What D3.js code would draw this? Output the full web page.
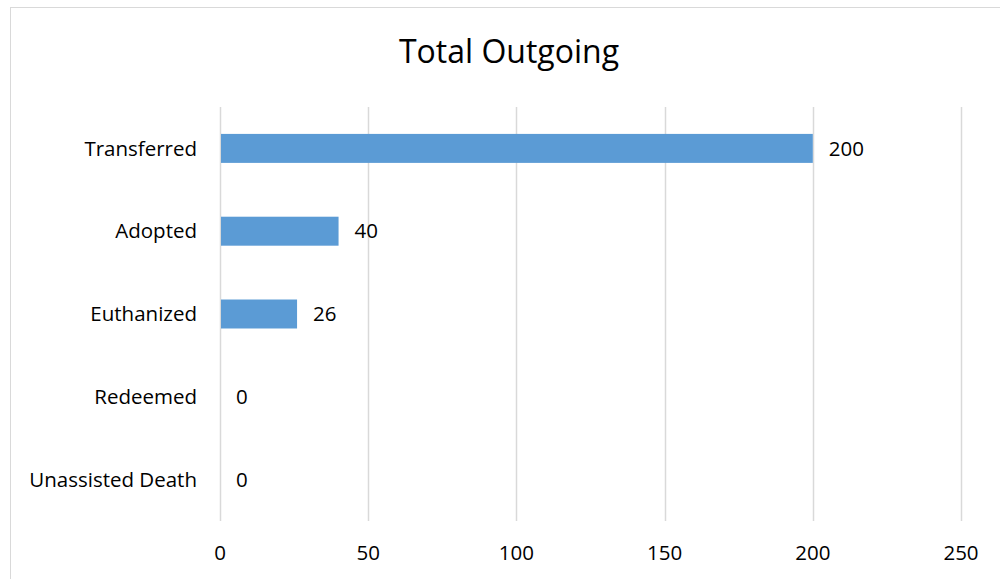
<!DOCTYPE html>
<html lang="en">
<head>
<meta charset="UTF-8">
<title>Total Outgoing</title>
<script src="https://d3js.org/d3.v7.min.js"></script>
<style>
    body { margin: 0; background: #fff; }
    svg { display: block; font-family: "Open Sans", "Noto Sans", sans-serif; }
    .cat-label, .tick-label, .value-label { font-size: 20.5px; fill: #000; }
    .title { font-size: 32px; fill: #000; }
</style>
</head>
<body>
<script>
    const categories = ["Transferred", "Adopted", "Euthanized", "Redeemed", "Unassisted Death"];
    const values = [200, 40, 26, 0, 0];
    const xTicks = [0, 50, 100, 150, 200, 250];

    const width = 1000, height = 579;
    const margin = {top: 107, right: 39, bottom: 58, left: 220};

    const svg = d3.select("body").append("svg")
        .attr("width", width)
        .attr("height", height);

    // chart frame
    svg.append("rect")
        .attr("x", 10.5).attr("y", 7.5)
        .attr("width", 1000).attr("height", 600)
        .attr("fill", "none")
        .attr("stroke", "#d9d9d9");

    const x = d3.scaleLinear()
        .domain([0, 250])
        .range([margin.left, width - margin.right]);

    const y = d3.scaleBand()
        .domain(categories)
        .range([margin.top, height - margin.bottom])
        .paddingInner(0.65)
        .paddingOuter(0.325);

    // gridlines
    svg.append("g")
        .selectAll("line")
        .data(xTicks)
        .join("line")
        .attr("x1", d => Math.round(x(d)) + 0.5)
        .attr("x2", d => Math.round(x(d)) + 0.5)
        .attr("y1", margin.top)
        .attr("y2", height - margin.bottom)
        .attr("stroke", "#d9d9d9")
        .attr("stroke-width", 1.5);

    // bars
    svg.append("g")
        .selectAll("rect")
        .data(values)
        .join("rect")
        .attr("x", x(0) + 1)
        .attr("y", (d, i) => y(categories[i]))
        .attr("width", d => Math.max(0, x(d) - x(0) - 1))
        .attr("height", y.bandwidth())
        .attr("fill", "#5b9bd5");

    // value labels
    svg.append("g")
        .selectAll("text")
        .data(values)
        .join("text")
        .attr("class", "value-label")
        .attr("x", d => x(d) + 16)
        .attr("y", (d, i) => y(categories[i]) + y.bandwidth() / 2)
        .attr("dy", "0.35em")
        .text(d => d);

    // category labels
    svg.append("g")
        .selectAll("text")
        .data(categories)
        .join("text")
        .attr("class", "cat-label")
        .attr("x", margin.left - 23)
        .attr("y", d => y(d) + y.bandwidth() / 2)
        .attr("dy", "0.35em")
        .attr("text-anchor", "end")
        .text(d => d);

    // x tick labels
    svg.append("g")
        .selectAll("text")
        .data(xTicks)
        .join("text")
        .attr("class", "tick-label")
        .attr("x", d => x(d))
        .attr("y", 553)
        .attr("dy", "0.35em")
        .attr("text-anchor", "middle")
        .text(d => d);

    svg.append("text")
        .attr("class", "title")
        .attr("x", 509)
        .attr("y", 52)
        .attr("dy", "0.35em")
        .attr("text-anchor", "middle")
        .text("Total Outgoing");
</script>
</body>
</html>
